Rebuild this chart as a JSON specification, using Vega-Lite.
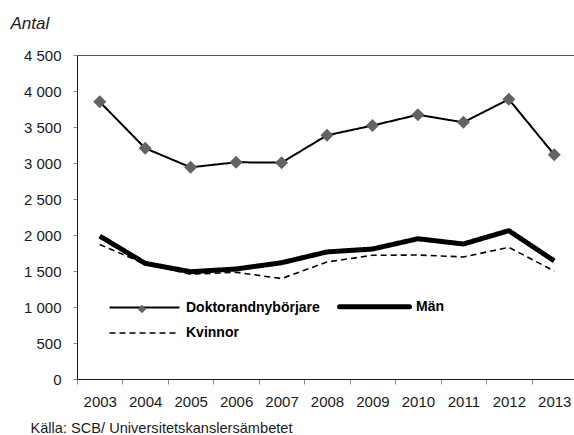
{
  "$schema": "https://vega.github.io/schema/vega-lite/v6.json",
  "width": 500,
  "height": 324,
  "autosize": {"type": "none"},
  "padding": {"left": 77, "top": 55, "right": 0, "bottom": 56},
  "background": "white",
  "config": {
    "font": "Liberation Sans, Arial, sans-serif",
    "view": {"stroke": "#555", "strokeWidth": 1},
    "axis": {
      "labelFont": "Liberation Sans, Arial, sans-serif",
      "titleFont": "Liberation Sans, Arial, sans-serif",
      "labelFontSize": 15,
      "labelColor": "#1a1a1a",
      "titleColor": "#1a1a1a",
      "domainColor": "#1a1a1a",
      "tickColor": "#8a8a8a",
      "labelOverlap": false,
      "labelFlush": false,
      "grid": false
    },
    "legend": {
      "labelFont": "Liberation Sans, Arial, sans-serif"
    }
  },
  "data": {
    "values": [
      {"year": "2003", "series": "Doktorandnybörjare", "value": 3850},
      {"year": "2004", "series": "Doktorandnybörjare", "value": 3205},
      {"year": "2005", "series": "Doktorandnybörjare", "value": 2940},
      {"year": "2006", "series": "Doktorandnybörjare", "value": 3010},
      {"year": "2007", "series": "Doktorandnybörjare", "value": 3005},
      {"year": "2008", "series": "Doktorandnybörjare", "value": 3385},
      {"year": "2009", "series": "Doktorandnybörjare", "value": 3520},
      {"year": "2010", "series": "Doktorandnybörjare", "value": 3670},
      {"year": "2011", "series": "Doktorandnybörjare", "value": 3565},
      {"year": "2012", "series": "Doktorandnybörjare", "value": 3885},
      {"year": "2013", "series": "Doktorandnybörjare", "value": 3115},
      {"year": "2003", "series": "Män", "value": 1985},
      {"year": "2004", "series": "Män", "value": 1606},
      {"year": "2005", "series": "Män", "value": 1490},
      {"year": "2006", "series": "Män", "value": 1528},
      {"year": "2007", "series": "Män", "value": 1615},
      {"year": "2008", "series": "Män", "value": 1765},
      {"year": "2009", "series": "Män", "value": 1805},
      {"year": "2010", "series": "Män", "value": 1948},
      {"year": "2011", "series": "Män", "value": 1875},
      {"year": "2012", "series": "Män", "value": 2060},
      {"year": "2013", "series": "Män", "value": 1640},
      {"year": "2003", "series": "Kvinnor", "value": 1868},
      {"year": "2004", "series": "Kvinnor", "value": 1598},
      {"year": "2005", "series": "Kvinnor", "value": 1455},
      {"year": "2006", "series": "Kvinnor", "value": 1482},
      {"year": "2007", "series": "Kvinnor", "value": 1395},
      {"year": "2008", "series": "Kvinnor", "value": 1625},
      {"year": "2009", "series": "Kvinnor", "value": 1718},
      {"year": "2010", "series": "Kvinnor", "value": 1722},
      {"year": "2011", "series": "Kvinnor", "value": 1695},
      {"year": "2012", "series": "Kvinnor", "value": 1828},
      {"year": "2013", "series": "Kvinnor", "value": 1500}
    ]
  },
  "layer": [
    {
      "mark": {"type": "line", "strokeJoin": "round"},
      "encoding": {
        "x": {
          "field": "year",
          "type": "ordinal",
          "bandPosition": 0.5,
          "scale": {"type": "band", "paddingInner": 0, "paddingOuter": 0},
          "axis": {
            "title": "Källa: SCB/ Universitetskanslersämbetet",
            "titleAlign": "left",
            "titleAnchor": "start",
            "titleX": -47,
            "titleY": 53,
            "titleBaseline": "alphabetic",
            "titleFontWeight": "normal",
            "titleFontSize": 14.6,
            "labelAngle": 0,
            "tickBand": "extent",
            "tickSize": 5,
            "labelPadding": 10
          }
        },
        "y": {
          "field": "value",
          "type": "quantitative",
          "scale": {"domain": [0, 4500], "nice": false},
          "axis": {
            "title": "Antal",
            "titleAngle": 0,
            "titleAlign": "left",
            "titleBaseline": "alphabetic",
            "titleX": -67,
            "titleY": -27,
            "titleFontStyle": "italic",
            "titleFontWeight": "normal",
            "titleFontSize": 17,
            "values": [0, 500, 1000, 1500, 2000, 2500, 3000, 3500, 4000, 4500],
            "tickCount": 10,
            "labelOverlap": false,
            "labelSeparation": 0,
            "labelExpr": "replace(format(datum.value, ','), ',', ' ')",
            "tickSize": 4,
            "labelPadding": 12
          }
        },
        "color": {
          "field": "series",
          "type": "nominal",
          "scale": {"domain": ["Doktorandnybörjare", "Män", "Kvinnor"], "range": ["#000000", "#000000", "#000000"]},
          "legend": {
            "title": null,
            "orient": "none",
            "direction": "horizontal",
            "legendX": 58,
            "legendY": 242,
            "columns": 2,
            "columnPadding": 9,
            "rowPadding": 8,
            "padding": 0,
            "values": ["Doktorandnybörjare", "Män", "Kvinnor"],
            "symbolType": "M-5,0H5",
            "symbolSize": 196,
            "symbolStrokeWidth": 2,
            "labelFontSize": 14,
            "labelFontWeight": "bold",
            "labelColor": "#000000",
            "labelOffset": 32,
            "labelLimit": 0,
            "encode": {
              "symbols": {
                "update": {
                  "strokeWidth": {"signal": "datum.value === 'Män' ? 5 : (datum.value === 'Kvinnor' ? 1.6 : 2)"},
                  "strokeDash": {"signal": "datum.value === 'Kvinnor' ? [6, 4] : [1, 0]"},
                  "strokeCap": {"signal": "datum.value === 'Män' ? 'round' : 'butt'"}
                }
              }
            }
          }
        },
        "strokeWidth": {
          "field": "series",
          "type": "nominal",
          "scale": {"type": "ordinal", "domain": ["Doktorandnybörjare", "Män", "Kvinnor"], "range": [2, 5, 1.6]},
          "legend": null
        },
        "strokeDash": {
          "field": "series",
          "type": "nominal",
          "scale": {"domain": ["Doktorandnybörjare", "Män", "Kvinnor"], "range": [[1, 0], [1, 0], [6, 4]]},
          "legend": null
        }
      }
    },
    {
      "transform": [{"filter": "datum.series === 'Doktorandnybörjare'"}],
      "mark": {"type": "point", "filled": true, "fill": "#636363", "size": 470, "opacity": 1, "strokeWidth": 0},
      "encoding": {
        "x": {"field": "year", "type": "ordinal", "bandPosition": 0.5},
        "y": {"field": "value", "type": "quantitative"},
        "shape": {
          "field": "series",
          "type": "nominal",
          "scale": {"range": ["M-0.6,0L0,-0.6L0.6,0L0,0.6Z"]},
          "legend": {
            "title": null,
            "orient": "none",
            "direction": "horizontal",
            "legendX": 58,
            "legendY": 247,
            "columns": 2,
            "columnPadding": 9,
            "rowPadding": 8,
            "padding": 0,
            "symbolSize": 196,
            "symbolFillColor": "#636363",
            "symbolStrokeWidth": 0,
            "labelFontSize": 14,
            "labelFontWeight": "bold",
            "labelOffset": 32,
            "labelLimit": 0,
            "labelOpacity": 0,
            "labelExpr": "''",
            "zindex": 2,
            "encode": {
              "symbols": {
                "update": {
                  "size": {"value": 196},
                  "fill": {"value": "#636363"},
                  "stroke": {"value": "transparent"},
                  "opacity": {"value": 1}
                }
              }
            }
          }
        }
      }
    }
  ]
}
